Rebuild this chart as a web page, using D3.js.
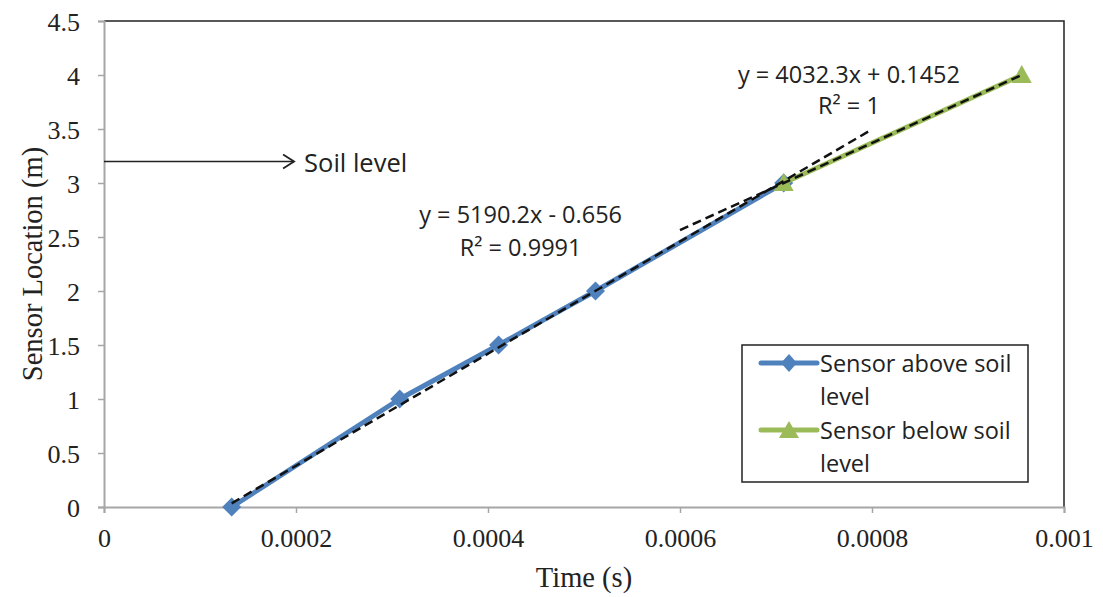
<!DOCTYPE html>
<html>
<head>
<meta charset="utf-8">
<script src="https://cdn.jsdelivr.net/npm/d3@7"></script>
<style>
  body { margin: 0; background: #fff; }
  svg { display: block; }
  .tick text { font-family: "Liberation Serif", "Times New Roman", serif; font-size: 26px; fill: #222; }
  .note { font-family: "Open Sans", sans-serif; font-size: 23.5px; fill: #222; }
</style>
</head>
<body>
<svg id="chart"></svg>
<script>
// Series data
var aboveTime = [0.000133, 0.000308, 0.000411, 0.000512, 0.000708];
var aboveLoc  = [0, 1, 1.5, 2, 3];
var belowTime = [0.000708, 0.000956];
var belowLoc  = [3, 4];

// Trendlines (from the chart's own equations)
var aboveFit = { slope: 5190.2, intercept: -0.656, from: 0.000133, to: 0.0008 };
var belowFit = { slope: 4032.3, intercept: 0.1452, from: 0.0006, to: 0.000956 };

// Axis ticks
var xTicks = [0, 0.0002, 0.0004, 0.0006, 0.0008, 0.001];
var xTickLabels = ["0", "0.0002", "0.0004", "0.0006", "0.0008", "0.001"];
var yTicks = [0, 0.5, 1, 1.5, 2, 2.5, 3, 3.5, 4, 4.5];
var yTickLabels = ["0", "0.5", "1", "1.5", "2", "2.5", "3", "3.5", "4", "4.5"];

var width = 1103, height = 597;
var margin = { top: 21, right: 39, bottom: 90, left: 104 };

var svg = d3.select('#chart')
    .attr('width', width)
    .attr('height', height);

var x = d3.scaleLinear().domain([0, 0.001]).range([margin.left, width - margin.right]);
var y = d3.scaleLinear().domain([0, 4.5]).range([height - margin.bottom, margin.top]);

// Plot area border (top & right black)
svg.append('path')
    .attr('d', 'M' + x(0) + ',' + y(4.5) + 'H' + x(0.001) + 'V' + y(0))
    .attr('fill', 'none')
    .attr('stroke', '#222')
    .attr('stroke-width', 1.5);

// Axes
var xAxis = svg.append('g')
    .attr('transform', 'translate(0,' + y(0) + ')')
    .call(d3.axisBottom(x).tickValues(xTicks).tickSize(6).tickPadding(16)
        .tickFormat(function(d, i) { return xTickLabels[i]; }));

var yAxis = svg.append('g')
    .attr('transform', 'translate(' + x(0) + ',0)')
    .call(d3.axisLeft(y).tickValues(yTicks).tickSize(6).tickPadding(18)
        .tickFormat(function(d, i) { return yTickLabels[i]; }));

[xAxis, yAxis].forEach(function(a) {
    a.select('.domain').attr('stroke', '#a6a6a6').attr('stroke-width', 2);
    a.selectAll('.tick line').attr('stroke', '#a6a6a6').attr('stroke-width', 1.5);
});
xAxis.selectAll('.tick text').attr('font-family', null).attr('font-size', null);
yAxis.selectAll('.tick text').attr('font-family', null).attr('font-size', null).attr('dy', '0.35em');

// Axis titles
svg.append('text')
    .attr('x', (x(0) + x(0.001)) / 2)
    .attr('y', 587)
    .attr('text-anchor', 'middle')
    .style('font-family', '"Liberation Serif", "Times New Roman", serif')
    .style('font-size', '28.5px')
    .style('fill', '#222')
    .text('Time (s)');

svg.append('text')
    .attr('transform', 'translate(42,' + (y(2.25)) + ') rotate(-90)')
    .attr('text-anchor', 'middle')
    .style('font-family', '"Liberation Serif", "Times New Roman", serif')
    .style('font-size', '28.5px')
    .style('fill', '#222')
    .text('Sensor Location (m)');

// Series lines
var line = d3.line()
    .x(function(d) { return x(d[0]); })
    .y(function(d) { return y(d[1]); });

var blue = '#4f81bd', green = '#9bbb59';

var aboveData = d3.zip(aboveTime, aboveLoc);
var belowData = d3.zip(belowTime, belowLoc);

svg.append('path')
    .datum(aboveData)
    .attr('d', line)
    .attr('fill', 'none')
    .attr('stroke', blue)
    .attr('stroke-width', 5)
    .attr('stroke-linejoin', 'round')
    .attr('stroke-linecap', 'round');

svg.append('g').selectAll('path')
    .data(aboveData)
    .enter().append('path')
    .attr('transform', function(d) { return 'translate(' + x(d[0]) + ',' + y(d[1]) + ')'; })
    .attr('d', 'M0,-9.5L9.5,0L0,9.5L-9.5,0Z')
    .attr('fill', blue);

svg.append('path')
    .datum(belowData)
    .attr('d', line)
    .attr('fill', 'none')
    .attr('stroke', green)
    .attr('stroke-width', 5)
    .attr('stroke-linecap', 'round');

svg.append('g').selectAll('path')
    .data(belowData)
    .enter().append('path')
    .attr('transform', function(d) { return 'translate(' + x(d[0]) + ',' + y(d[1]) + ')'; })
    .attr('d', 'M0,-10L10,8L-10,8Z')
    .attr('fill', green);

// Trendlines
[aboveFit, belowFit].forEach(function(f) {
    svg.append('line')
        .attr('x1', x(f.from))
        .attr('y1', y(f.slope * f.from + f.intercept))
        .attr('x2', x(f.to))
        .attr('y2', y(f.slope * f.to + f.intercept))
        .attr('stroke', '#111')
        .attr('stroke-width', 2.5)
        .attr('stroke-dasharray', '9,5');
});

// Equation labels
function note(tx, ty, str) {
    svg.append('text')
        .attr('class', 'note')
        .attr('x', tx)
        .attr('y', ty)
        .attr('text-anchor', 'middle')
        .text(str);
}
note(x(0.000434), y(2.63), 'y = 5190.2x - 0.656');
note(x(0.000434), y(2.325), 'R² = 0.9991');
note(x(0.000776), y(3.925), 'y = 4032.3x + 0.1452');
note(x(0.000776), y(3.64), 'R² = 1');

// Soil level arrow
var soilY = y(3.2), arrowEnd = x(0.000198);
svg.append('line')
    .attr('x1', x(0)).attr('y1', soilY)
    .attr('x2', arrowEnd).attr('y2', soilY)
    .attr('stroke', '#222').attr('stroke-width', 1.5);
svg.append('path')
    .attr('d', 'M' + (arrowEnd - 11) + ',' + (soilY - 7) + 'L' + arrowEnd + ',' + soilY + 'L' + (arrowEnd - 11) + ',' + (soilY + 7))
    .attr('fill', 'none').attr('stroke', '#222').attr('stroke-width', 1.8);
svg.append('text')
    .attr('class', 'note')
    .attr('x', arrowEnd + 10)
    .attr('y', soilY + 11)
    .style('font-size', '25.5px')
    .text('Soil level');

// Legend
var legend = svg.append('g').attr('transform', 'translate(742,345)');
legend.append('rect')
    .attr('width', 286).attr('height', 137)
    .attr('fill', '#fff').attr('stroke', '#222').attr('stroke-width', 1.5);

var legendItems = [
    { color: blue, shape: 'M0,-9L8,0L0,9L-8,0Z', lines: ['Sensor above soil', 'level'] },
    { color: green, shape: 'M0,-9L10,8L-10,8Z', lines: ['Sensor below soil', 'level'] }
];

var entry = legend.selectAll('g.item')
    .data(legendItems)
    .enter().append('g')
    .attr('class', 'item')
    .attr('transform', function(d, i) { return 'translate(0,' + (18 + i * 67) + ')'; });

entry.append('line')
    .attr('x1', 19).attr('x2', 75)
    .attr('stroke', function(d) { return d.color; })
    .attr('stroke-width', 5)
    .attr('stroke-linecap', 'round');
entry.append('path')
    .attr('transform', 'translate(47,0)')
    .attr('d', function(d) { return d.shape; })
    .attr('fill', function(d) { return d.color; });
entry.append('text')
    .attr('class', 'note')
    .attr('x', 78)
    .attr('y', 9)
    .selectAll('tspan')
    .data(function(d) { return d.lines; })
    .enter().append('tspan')
    .attr('x', 78)
    .attr('dy', function(d, i) { return i === 0 ? 0 : 33; })
    .text(function(d) { return d; });
</script>
</body>
</html>
